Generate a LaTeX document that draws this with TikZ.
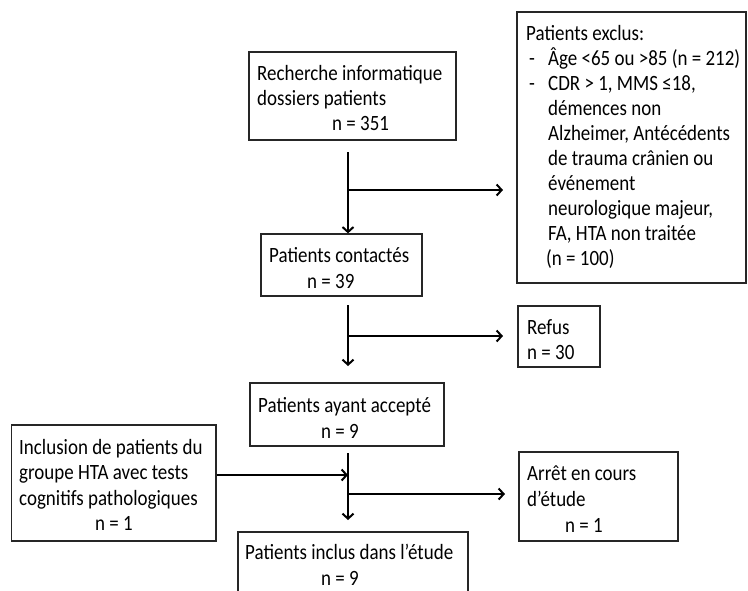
\documentclass[tikz,border=0pt]{standalone}
\usepackage{fontspec}
\setmainfont{Carlito}[FakeStretch=0.87]
\usetikzlibrary{arrows.meta}
\begin{document}
\begin{tikzpicture}[x=1pt,y=-1pt,
  box/.style={draw=black!85, line width=1.3pt, rectangle, inner sep=0pt},
  txt/.style={anchor=base west, inner sep=0pt, font=\fontsize{21.8}{25}\selectfont, text=black},
  conn/.style={line width=2pt, draw=black},
  arr/.style={conn, -{Straight Barb[length=5pt,width=11pt,line width=2pt]}}]
\useasboundingbox (0,0) rectangle (748,590);
\clip (0,0) rectangle (748,590);
\fill[white] (0,0) rectangle (748,590);
% boxes
\node[box, minimum width=207pt, minimum height=88pt] (b1) at (352.5,96) {};
\node[box, minimum width=229pt, minimum height=271pt] (bx) at (631.5,147.5) {};
\node[box, minimum width=161pt, minimum height=62pt] (b2) at (341.5,265) {};
\node[box, minimum width=82pt, minimum height=61pt] (br) at (559,336.5) {};
\node[box, minimum width=194pt, minimum height=63pt] (b3) at (347,414.5) {};
\node[box, minimum width=204.5pt, minimum height=116pt] (bi) at (113.75,483) {};
\node[box, minimum width=159pt, minimum height=89pt] (ba) at (598.5,496.5) {};
\node[box, minimum width=230pt, minimum height=88pt] (b4) at (353,576) {};
% texts
\node[txt] (t1a) at (257,80) {Recherche informatique};
\node[txt] (t1b) at (257,105) {dossiers patients};
\node[txt] (t1c) at (332,130) {n = 351};
\node[txt] (tx0) at (526,40) {Patients exclus:};
\node[txt] (tx1d) at (529,65) {-};
\node[txt] (tx1) at (548,65) {Âge <65 ou >85 (n = 212)};
\node[txt] (tx2d) at (529,90) {-};
\node[txt] (tx2) at (548,90) {CDR > 1, MMS ≤18,};
\node[txt] (tx3) at (548,115) {démences non};
\node[txt] (tx4) at (548,140) {Alzheimer, Antécédents};
\node[txt] (tx5) at (548,165) {de trauma crânien ou};
\node[txt] (tx6) at (548,190) {événement};
\node[txt] (tx7) at (548,215) {neurologique majeur,};
\node[txt] (tx8) at (548,240) {FA, HTA non traitée};
\node[txt] (tx9) at (546,265) {(n = 100)};
\node[txt] (t2a) at (269,262) {Patients contactés};
\node[txt] (t2b) at (307,288) {n = 39};
\node[txt] (tra) at (527,334) {Refus};
\node[txt] (trb) at (527,359) {n = 30};
\node[txt] (t3a) at (258,412) {Patients ayant accepté};
\node[txt] (t3b) at (321,438) {n = 9};
\node[txt] (tia) at (19,454) {Inclusion de patients du};
\node[txt] (tib) at (19,479) {groupe HTA avec tests};
\node[txt] (tic) at (19,505) {cognitifs pathologiques};
\node[txt] (tid) at (95,530) {n = 1};
\node[txt] (taa) at (527,480) {Arrêt en cours};
\node[txt] (tab) at (527,506) {d’étude};
\node[txt] (tac) at (565,532) {n = 1};
\node[txt] (t4a) at (245,559) {Patients inclus dans l’étude};
\node[txt] (t4b) at (321,585) {n = 9};
% connectors
\coordinate (s1) at (348,152);
\coordinate (j1) at (348,190);
\coordinate (e1) at (503,190);
\coordinate (s2) at (348,305);
\coordinate (j2) at (348,336);
\coordinate (e2) at (503,336);
\coordinate (d2) at (348,366);
\coordinate (s3) at (348,453);
\coordinate (j3) at (348,475);
\coordinate (k3) at (348,494);
\coordinate (e3) at (505,494);
\coordinate (d3) at (348,520);
\draw[arr] (s1) -- (s1 |- b2.north);
\draw[arr] (j1) -- (e1);
\draw[arr] (s2) -- (d2);
\draw[arr] (j2) -- (e2);
\draw[arr] (s3) -- (d3);
\draw[arr] (bi.east |- j3) -- (j3);
\draw[arr] (k3) -- (e3);
\end{tikzpicture}
\end{document}
